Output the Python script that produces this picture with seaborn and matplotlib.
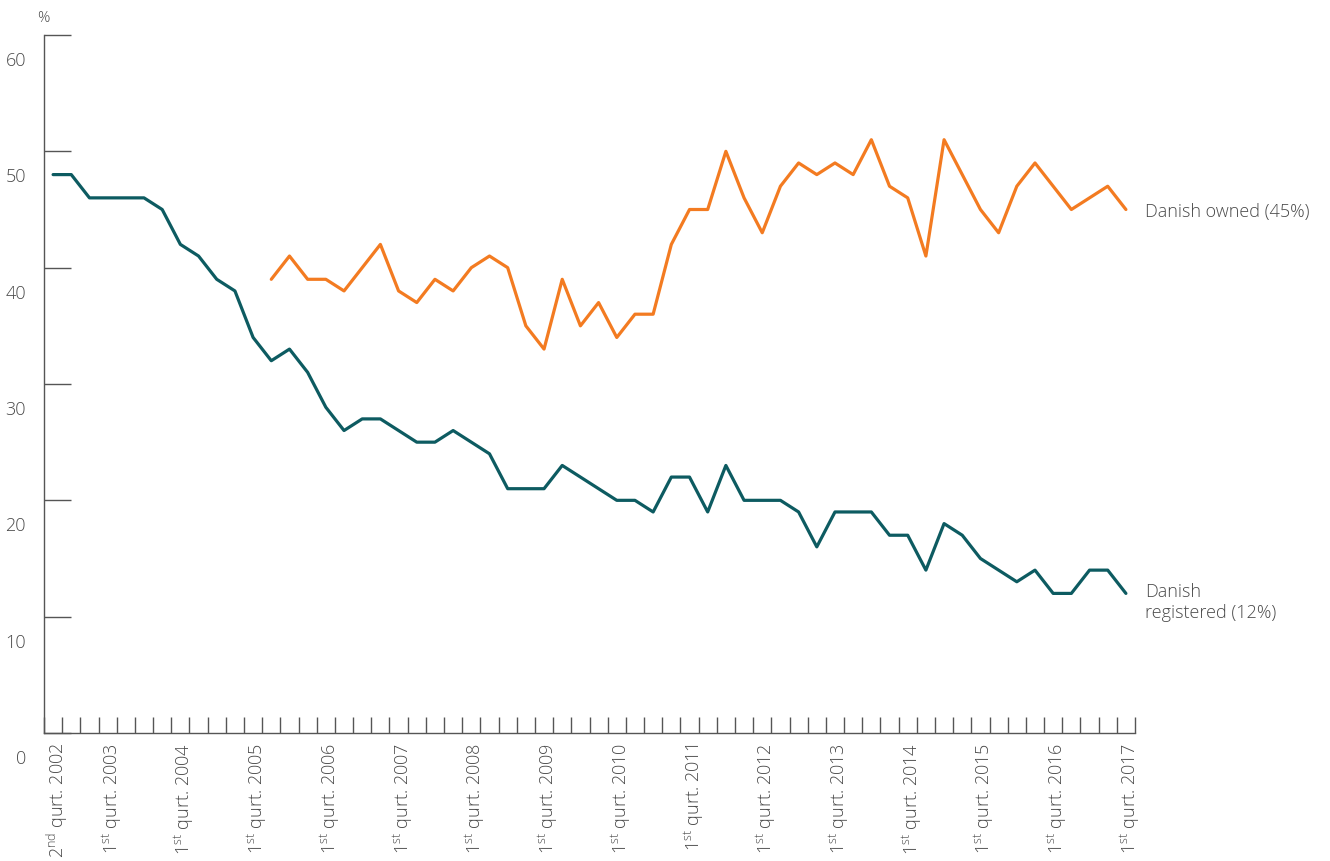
import numpy as np
import matplotlib
matplotlib.use("Agg")
import matplotlib.pyplot as plt
import seaborn as sns
from matplotlib.transforms import ScaledTranslation

# Share (%) per quarter, 2nd qurt. 2002 .. 1st qurt. 2017 (60 quarters)
danish_registered = [48, 48, 46, 46, 46, 46, 45, 42, 41, 39, 38, 34,
                     32, 33, 31, 28, 26, 27, 27, 26, 25, 25, 26, 25,
                     24, 21, 21, 21, 23, 22, 21, 20, 20, 19, 22, 22,
                     19, 23, 20, 20, 20, 19, 16, 19, 19, 19, 17, 17,
                     14, 18, 17, 15, 14, 13, 14, 12, 12, 14, 14, 12]
# no data before 2nd qurt. 2005
danish_owned = [np.nan] * 12 + [39, 41, 39, 39, 38, 40, 42, 38, 37, 39, 38, 40,
                                41, 40, 35, 33, 39, 35, 37, 34, 36, 36, 42, 45,
                                45, 50, 46, 43, 47, 49, 48, 49, 48, 51, 47, 46,
                                41, 51, 48, 45, 43, 47, 49, 47, 45, 46, 47, 45]

# labelled quarters (index into the series) and their labels
label_idx = [0, 3, 7, 11, 15, 19, 23, 27, 31, 35, 39, 43, 47, 51, 55, 59]
label_txt = [r"$\mathregular{2^{nd}}$ qurt. 2002"] + \
    [r"$\mathregular{1^{st}}$ qurt. " + str(y) for y in
     ["2003", "2004", "2005", "2006", "2007", "2008", "2009", "2010",
      "2011", "2012", "2013", "2014", "2015", "2016", "2017"]]
y_ticks = [0, 10, 20, 30, 40, 50, 60]

TEAL = "#0d5b61"
ORANGE = "#f37b21"
GREY = "#4a4a4a"

sns.set_style("white")
plt.rcParams["font.family"] = ["Open Sans", "DejaVu Sans"]
plt.rcParams["font.weight"] = "light"
plt.rcParams["mathtext.default"] = "regular"

fig = plt.figure(figsize=(13.3, 8.61), dpi=100)
ax = fig.add_axes([44 / 1330, 1 - 733 / 861, (1135 - 44) / 1330, (733 - 35) / 861])

x = np.arange(len(danish_registered)) + 0.5
sns.lineplot(x=x, y=danish_registered, color=TEAL, lw=2.3, ax=ax)
sns.lineplot(x=x, y=danish_owned, color=ORANGE, lw=2.3, ax=ax)

ax.set_xlim(0, len(danish_registered))
ax.set_ylim(0, 60)

for s in ["top", "right"]:
    ax.spines[s].set_visible(False)
for s in ["left", "bottom"]:
    ax.spines[s].set_color("#555555")
    ax.spines[s].set_linewidth(1.0)

# y axis: inward ticks, labels sitting below each tick line
ax.set_yticks(y_ticks)
ax.tick_params(axis="y", left=True, direction="in", length=19.5, width=1.0,
               color="#555555", pad=13, labelsize=13, labelcolor=GREY)
off = ScaledTranslation(0, -24 / 100, fig.dpi_scale_trans)
for lab in ax.get_yticklabels():
    lab.set_transform(lab.get_transform() + off)

# x axis: ticks at quarter boundaries, labels at the centres
ax.set_xticks(np.arange(0, len(danish_registered) + 1))
ax.set_xticklabels([])
ax.tick_params(axis="x", which="major", bottom=True, direction="in", length=11.5,
               width=1.0, color="#555555")
ax.set_xticks(x[label_idx], minor=True)
ax.set_xticklabels(label_txt, minor=True, rotation=90, fontsize=13, color=GREY)
ax.tick_params(axis="x", which="minor", bottom=True, length=0, pad=7)
xoff = ScaledTranslation(4 / 100, 0, fig.dpi_scale_trans)
for lab in ax.get_xticklabels(minor=True):
    lab.set_transform(lab.get_transform() + xoff)
ax.set_xlabel("")
ax.set_ylabel("")

ax.annotate("%", xy=(0, 1), xycoords="axes fraction", xytext=(-5, 12),
            textcoords="offset points", fontsize=11, color=GREY, ha="left", va="center")

ax.annotate("Danish owned (45%)", xy=(x[-1], danish_owned[-1]), xytext=(14, -2),
            textcoords="offset points", fontsize=13, color=GREY, va="center")
ax.annotate("Danish\nregistered (12%)", xy=(x[-1], danish_registered[-1]),
            xytext=(14, -6.5), textcoords="offset points", fontsize=13,
            color=GREY, va="center", linespacing=1.2)

fig.savefig("out.png", dpi=100)
